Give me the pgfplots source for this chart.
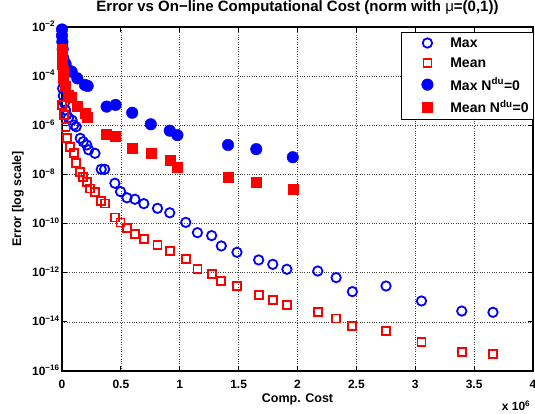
\documentclass[border=0pt]{standalone}
\usepackage{fontspec}
\setmainfont{Liberation Sans}
\usepackage{pgfplots}
\pgfplotsset{compat=1.18}
\definecolor{mblue}{RGB}{0,0,255}
\definecolor{mred}{RGB}{255,0,0}
\newcommand{\tl}[1]{10\rlap{\smash{\textsuperscript{#1}}}}
\pgfplotstableread{
x y
0.005 3.16e-5
0.011 1.58e-5
0.020 7.94e-6
0.030 4.17e-6
0.040 2.63e-6
0.055 2.00e-6
0.085 1.62e-6
0.100 1.02e-6
0.120 8.71e-7
0.155 2.95e-7
0.180 2.14e-7
0.210 1.58e-7
0.226 1.00e-7
0.280 7.24e-8
0.333 1.62e-8
0.362 1.62e-8
0.449 4.37e-9
0.497 2.00e-9
0.552 1.12e-9
0.619 9.77e-10
0.695 6.46e-10
0.811 4.17e-10
0.915 2.75e-10
1.051 1.12e-10
1.150 4.27e-11
1.271 3.24e-11
1.353 1.23e-11
1.486 6.76e-12
1.670 3.31e-12
1.790 2.19e-12
1.910 1.38e-12
2.172 1.17e-12
2.328 6.31e-13
2.466 1.70e-13
2.752 2.88e-13
3.053 7.08e-14
3.395 2.75e-14
3.660 2.45e-14
}\maxtab
\pgfplotstableread{
x y
0.000 6.76e-6
0.014 2.63e-6
0.030 8.71e-7
0.040 2.95e-7
0.070 1.35e-7
0.100 7.24e-8
0.120 2.82e-8
0.155 1.29e-8
0.180 8.13e-9
0.210 5.01e-9
0.240 2.69e-9
0.277 2.00e-9
0.333 8.32e-10
0.362 6.61e-10
0.449 1.78e-10
0.497 1.10e-10
0.552 6.46e-11
0.619 3.80e-11
0.695 2.29e-11
0.811 1.35e-11
0.915 7.59e-12
1.051 3.55e-12
1.150 1.38e-12
1.271 8.71e-13
1.353 4.68e-13
1.486 2.88e-13
1.670 1.23e-13
1.790 7.76e-14
1.910 4.90e-14
2.172 2.45e-14
2.328 1.38e-14
2.466 6.92e-15
2.752 4.37e-15
3.053 1.48e-15
3.395 6.03e-16
3.660 4.90e-16
}\meantab
\pgfplotstableread{
x y
0.000 7.94e-3
0.000 4.47e-3
0.003 2.51e-3
0.006 1.26e-3
0.011 5.37e-4
0.030 3.16e-4
0.054 1.78e-4
0.082 1.51e-4
0.130 8.13e-5
0.195 4.37e-5
0.218 3.98e-5
0.379 5.75e-6
0.455 6.76e-6
0.596 3.24e-6
0.754 1.10e-6
0.915 6.03e-7
0.980 3.98e-7
1.410 1.58e-7
1.650 1.07e-7
1.960 5.01e-8
}\maxzero
\pgfplotstableread{
x y
0.000 1.26e-3
0.000 6.31e-4
0.003 3.16e-4
0.006 1.58e-4
0.011 7.94e-5
0.030 3.98e-5
0.054 1.70e-5
0.082 1.45e-5
0.130 5.75e-6
0.195 3.09e-6
0.218 2.09e-6
0.379 4.27e-7
0.455 3.47e-7
0.596 1.15e-7
0.754 7.24e-8
0.915 3.89e-8
0.980 2.04e-8
1.410 7.59e-9
1.650 5.01e-9
1.960 2.45e-9
}\meanzero
\begin{document}
\begin{tikzpicture}
\begin{axis}[name=ax, scale only axis, width=471pt, height=344pt,
  xmin=0, xmax=4, ymode=log, ymin=1e-16, ymax=1e-2,
  xtick={0,0.5,1,1.5,2,2.5,3,3.5,4},
  xticklabels={0,0.5,1,1.5,2,2.5,3,3.5,4},
  ytick={1e-16,1e-14,1e-12,1e-10,1e-8,1e-6,1e-4,1e-2},
  yticklabels={\tl{−16},\tl{−14},\tl{−12},\tl{−10},\tl{−8},\tl{−6},\tl{−4},\tl{−2}},
  yminorticks=false, xminorticks=false,
  tick align=inside, tick pos=both, major tick length=5pt,
  grid=major, grid style={dotted, black!75, line width=0.6pt},
  axis line style={line width=1.1pt},
  every tick/.style={black, line width=0.8pt},
  ticklabel style={font=\bfseries\fontsize{12}{14}\selectfont},
  xticklabel style={anchor=base, yshift=-17pt},
  yticklabel style={anchor=east, xshift=-13pt},
  title={Error vs On−line Computational Cost (norm with {\mdseries μ}=(0,1))},
  title style={font=\bfseries\fontsize{15}{17}\selectfont, at={(0.5,1)}, anchor=base, yshift=9pt},
  xlabel={Comp. Cost},
  xlabel style={font=\bfseries\fontsize{12.5}{14}\selectfont, at={(0.5,0)}, anchor=base, yshift=-31pt},
  ylabel={Error [log scale]},
  ylabel style={font=\bfseries\fontsize{12.5}{14}\selectfont, at={(0,0.5)}, anchor=center, yshift=44pt},
  legend style={at={(1,1)}, anchor=north east, xshift=1pt, yshift=-5pt, draw=black, line width=0.9pt,
    font=\bfseries\fontsize{14}{15}\selectfont, row sep=5pt, inner xsep=3pt, inner ysep=3pt},
  legend image code/.code={\path (0pt,0pt) (42pt,0pt); \draw[#1] plot coordinates {(22pt,0pt)};},
  legend cell align=left,
  clip=false,
]
\addplot[only marks, mark=o, mark size=4.7pt, mblue, line width=1.8pt] table {\maxtab};
\addplot[only marks, mark=square, mark size=4pt, mred, line width=1.8pt] table {\meantab};
\addplot[only marks, mark=*, mark size=5.8pt, mblue, line width=0.4pt] table {\maxzero};
\addplot[only marks, mark=square*, mark size=5pt, mred, line width=0.4pt] table {\meanzero};
\legend{Max, Mean, Max N\textsuperscript{du}=0, Mean N\textsuperscript{du}=0}
\end{axis}
\node[font=\bfseries\fontsize{12}{14}\selectfont, anchor=center] at ([xshift=-17pt,yshift=-35pt]ax.south east) {x 10\textsuperscript{6}};
\pgfresetboundingbox
\path ([xshift=-62pt,yshift=-43pt]ax.south west) rectangle ([xshift=2pt,yshift=27pt]ax.north east);
\end{tikzpicture}
\end{document}
